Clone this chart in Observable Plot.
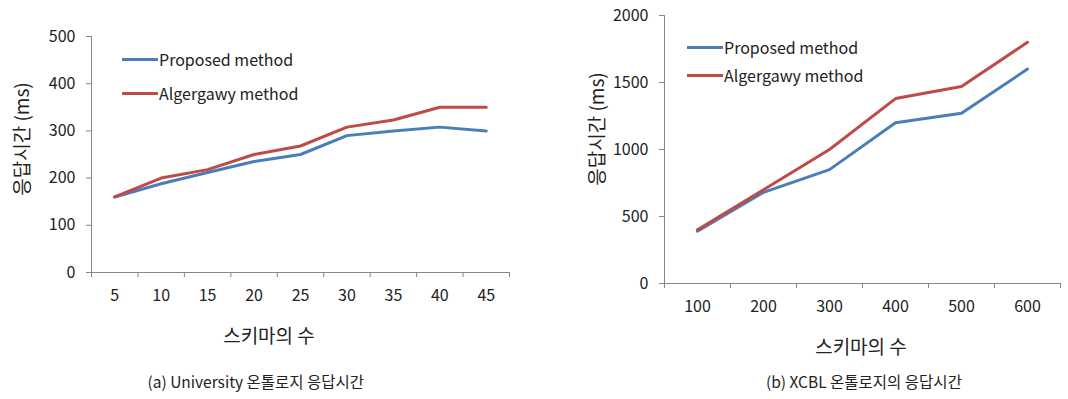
<!DOCTYPE html>
<html><head><meta charset="utf-8">
<script src="https://cdn.jsdelivr.net/npm/d3@7"></script>
<script src="https://cdn.jsdelivr.net/npm/@observablehq/plot@0.6"></script>
<style>
body{margin:0;background:#fff;}
#wrap{position:relative;width:1068px;height:399px;overflow:hidden;font-family:"Noto Sans CJK KR","Noto Sans",sans-serif;color:#222;}
.chart{position:absolute;top:0;}
.legend{position:absolute;font-size:16px;color:#222;line-height:1;}
.legend div{position:absolute;white-space:nowrap;display:flex;align-items:center;}
.legend span.sw{display:inline-block;width:36px;height:3px;margin-right:1px;}
.cap{position:absolute;font-size:15.5px;white-space:nowrap;color:#222;}
.ttl{position:absolute;font-size:19px;white-space:nowrap;color:#222;line-height:1;transform:translate(-50%,-50%);}
.ttl.rot{transform:translate(-50%,-50%) rotate(-90deg);}
</style></head>
<body><div id="wrap"></div>
<script>
// ---- data ----
const seriesNames = ["Proposed method", "Algergawy method"];
const seriesColors = ["#4A7EBB", "#BE4B48"];

const schemasA = [5, 10, 15, 20, 25, 30, 35, 40, 45];
const proposedA = [160, 188, 212, 235, 250, 290, 300, 308, 300];
const algergawyA = [160, 200, 218, 250, 268, 308, 323, 350, 350];
const yTicksA = [0, 100, 200, 300, 400, 500];

const schemasB = [100, 200, 300, 400, 500, 600];
const proposedB = [390, 680, 850, 1200, 1270, 1600];
const algergawyB = [400, 700, 1000, 1380, 1470, 1800];
const yTicksB = [0, 500, 1000, 1500, 2000];

const yLabel = "응답시간 (ms)";
const xLabel = "스키마의 수";
const captionA = "(a) University 온톨로지 응답시간";
const captionB = "(b) XCBL 온톨로지의 응답시간";

function rows(xs, a, b) {
  return [...xs.map((x, i) => ({x, y: a[i], s: seriesNames[0]})),
          ...xs.map((x, i) => ({x, y: b[i], s: seriesNames[1]}))];
}

function chart({xs, a, b, yTicks, yMax, width, height, margins}) {
  const step = xs[1] - xs[0];
  const lo = xs[0] - step / 2, hi = xs[xs.length - 1] + step / 2;
  const bounds = d3.range(xs.length + 1).map(i => lo + i * step);
  const data = rows(xs, a, b);
  return Plot.plot({
    width, height, ...margins,
    style: {fontFamily: '"Noto Sans CJK KR","Noto Sans",sans-serif', fontSize: "16px", color: "#222", background: "white"},
    x: {domain: [lo, hi]},
    y: {domain: [0, yMax]},
    color: {domain: seriesNames, range: seriesColors},
    marks: [
      Plot.axisY({ticks: yTicks, tickSize: 5, tickPadding: 11, stroke: "#868686", fill: "#222",
        tickFormat: d => String(d), label: null}),
      Plot.axisX({ticks: bounds, tickSize: 5, tickFormat: () => "", stroke: "#868686", label: null}),
      Plot.axisX({ticks: xs, tickSize: 0, tickPadding: 17, fill: "#222", tickFormat: d => String(d), label: null}),
      Plot.ruleY([0], {stroke: "#868686"}),
      Plot.ruleX([lo], {stroke: "#868686"}),
      Plot.line(data, {x: "x", y: "y", stroke: "s", strokeWidth: 3})
    ]
  });
}

const wrap = document.getElementById("wrap");

const left = chart({xs: schemasA, a: proposedA, b: algergawyA, yTicks: yTicksA, yMax: 500,
  width: 530, height: 350, margins: {marginLeft: 91, marginTop: 36, marginBottom: 78, marginRight: 21}});
left.classList.add("chart"); left.style.left = "0px";
wrap.appendChild(left);

const right = chart({xs: schemasB, a: proposedB, b: algergawyB, yTicks: yTicksB, yMax: 2000,
  width: 528, height: 360, margins: {marginLeft: 124, marginTop: 15, marginBottom: 77, marginRight: 8}});
right.classList.add("chart"); right.style.left = "540px";
wrap.appendChild(right);

function title(text, cx, cy, rot) {
  const t = document.createElement("div");
  t.className = "ttl" + (rot ? " rot" : "");
  t.textContent = text;
  t.style.left = cx + "px"; t.style.top = cy + "px";
  wrap.appendChild(t);
}
title(yLabel, 20, 139, true);
title(xLabel, 269, 334, false);
title(yLabel, 595, 129, true);
title(xLabel, 861, 345, false);

function legend(x, y, gap) {
  const lg = document.createElement("div");
  lg.className = "legend";
  lg.style.left = x + "px"; lg.style.top = y + "px";
  seriesNames.forEach((n, i) => {
    const row = document.createElement("div");
    row.style.left = "0px"; row.style.top = (i * gap - 9) + "px";
    const sw = document.createElement("span"); sw.className = "sw"; sw.style.background = seriesColors[i];
    const t = document.createElement("span"); t.textContent = n;
    row.appendChild(sw); row.appendChild(t);
    lg.appendChild(row);
  });
  wrap.appendChild(lg);
}
legend(122, 60, 34);
legend(687, 48, 28);

function caption(text, cx, cy) {
  const c = document.createElement("div");
  c.className = "cap"; c.textContent = text;
  wrap.appendChild(c);
  c.style.left = (cx - c.offsetWidth / 2) + "px";
  c.style.top = (cy - c.offsetHeight / 2) + "px";
}
caption(captionA, 256, 381);
caption(captionB, 864, 381);
</script></body></html>
